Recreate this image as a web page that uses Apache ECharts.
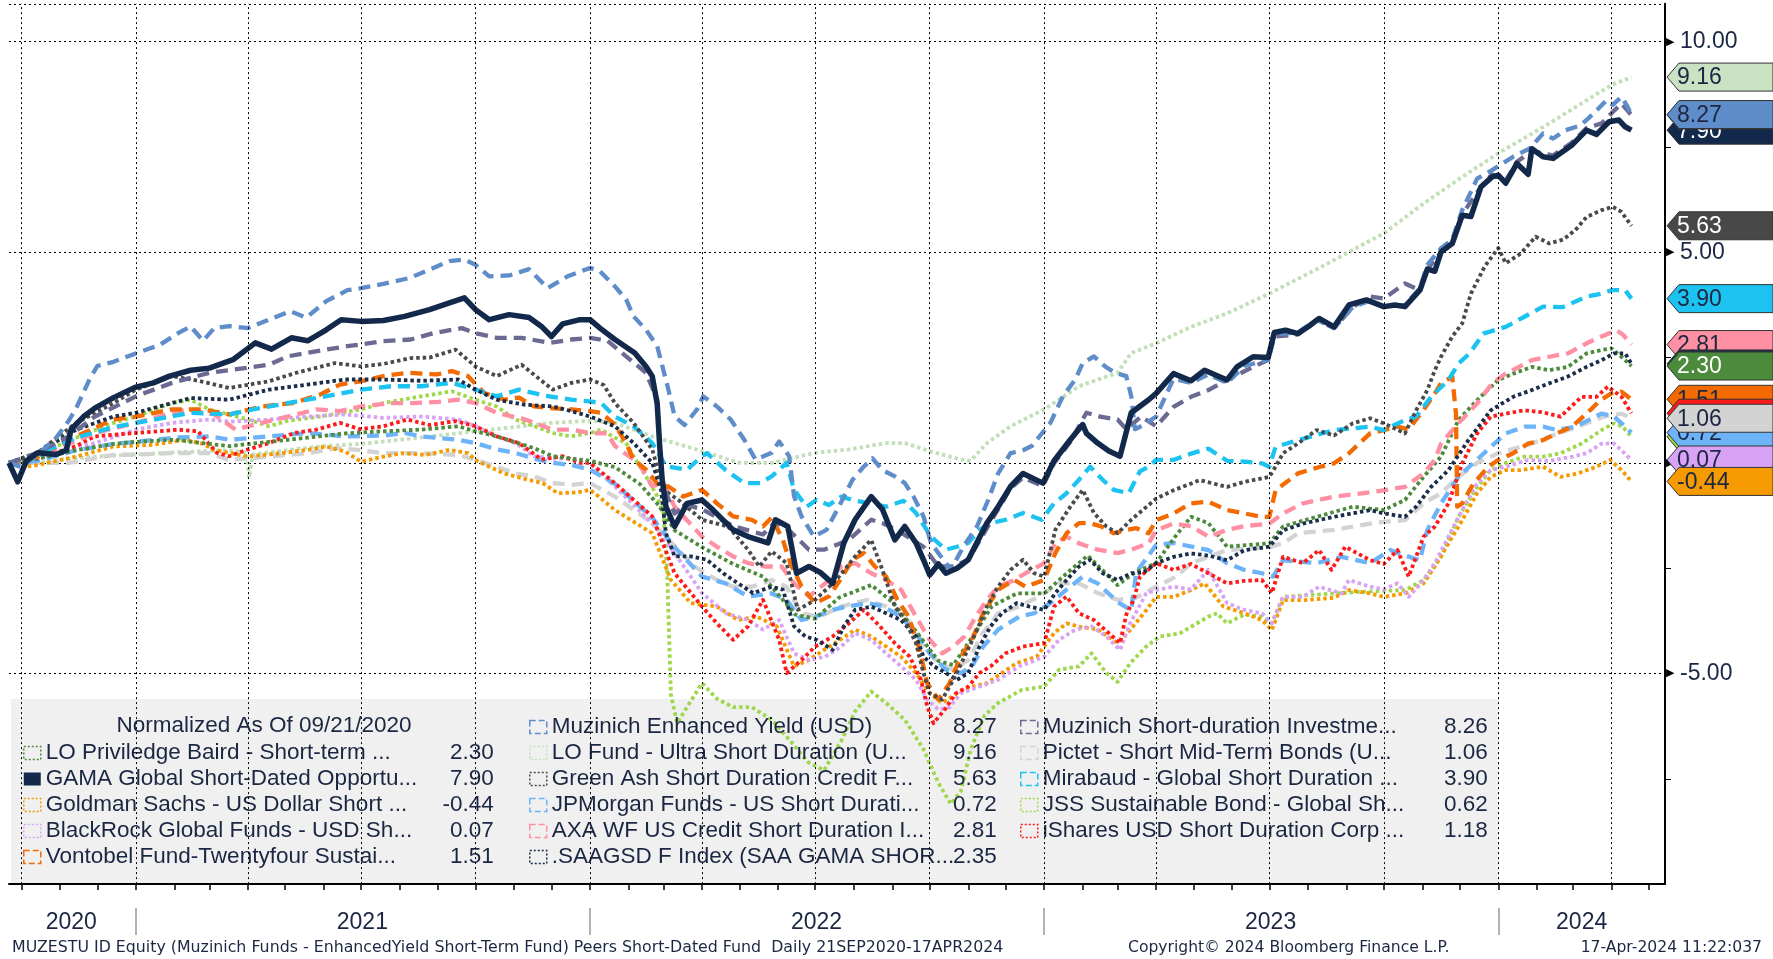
<!DOCTYPE html>
<html><head><meta charset="utf-8">
<script src="https://cdn.jsdelivr.net/npm/echarts@6/dist/echarts.min.js"></script>
<style>html,body{margin:0;padding:0;background:#fff}#c{width:1773px;height:959px}</style>
</head><body><div id="c"></div>
<script>
// ---------------- DATA (normalized % change since 21 Sep 2020) ----------------
const gama = [['2020-09-21',0],['2020-09-28',-0.45],['2020-10-05',0.05],['2020-10-14',0.24],['2020-10-29',0.2],['2020-11-06',0.3],['2020-11-10',0.8],['2020-11-20',1.1],['2020-11-29',1.3],['2020-12-14',1.55],['2021-01-01',1.8],['2021-01-15',1.9],['2021-01-28',2.06],['2021-02-14',2.2],['2021-03-01',2.25],['2021-03-20',2.45],['2021-04-07',2.85],['2021-04-20',2.7],['2021-05-06',2.97],['2021-05-19',2.9],['2021-06-03',3.16],['2021-06-15',3.4],['2021-07-01',3.36],['2021-07-19',3.38],['2021-08-05',3.48],['2021-08-25',3.64],['2021-09-10',3.8],['2021-09-22',3.92],['2021-10-01',3.64],['2021-10-12',3.4],['2021-10-28',3.52],['2021-11-13',3.45],['2021-11-23',3.24],['2021-12-01',3.0],['2021-12-10',3.3],['2021-12-24',3.4],['2022-01-01',3.4],['2022-01-09',3.2],['2022-01-21',2.93],['2022-02-06',2.61],['2022-02-15',2.29],['2022-02-20',2.06],['2022-02-24',1.4],['2022-02-26',0.4],['2022-02-28',-0.4],['2022-03-03',-1.04],['2022-03-10',-1.51],['2022-03-20',-0.96],['2022-04-01',-0.88],['2022-04-10',-1.12],['2022-04-26',-1.59],['2022-05-08',-1.75],['2022-05-24',-1.9],['2022-05-30',-1.35],['2022-06-09',-1.51],['2022-06-16',-2.62],['2022-06-26',-2.46],['2022-07-05',-2.6],['2022-07-15',-2.86],['2022-07-24',-1.9],['2022-08-02',-1.35],['2022-08-15',-0.8],['2022-08-24',-1.1],['2022-09-03',-1.83],['2022-09-11',-1.51],['2022-09-20',-1.9],['2022-09-26',-2.3],['2022-10-01',-2.66],['2022-10-08',-2.4],['2022-10-14',-2.62],['2022-10-23',-2.5],['2022-11-01',-2.3],['2022-11-09',-1.83],['2022-11-16',-1.43],['2022-11-25',-1.04],['2022-12-05',-0.56],['2022-12-15',-0.25],['2022-12-31',-0.48],['2023-01-09',0.05],['2023-01-22',0.55],['2023-02-01',0.91],['2023-02-04',0.7],['2023-02-13',0.47],['2023-02-22',0.28],['2023-03-03',0.16],['2023-03-12',1.19],['2023-03-26',1.5],['2023-04-01',1.65],['2023-04-15',2.12],['2023-04-29',1.95],['2023-05-10',2.2],['2023-05-28',1.97],['2023-06-05',2.28],['2023-06-18',2.52],['2023-06-30',2.5],['2023-07-05',3.1],['2023-07-14',3.15],['2023-07-24',3.07],['2023-08-02',3.25],['2023-08-10',3.43],['2023-08-22',3.23],['2023-09-03',3.75],['2023-09-17',3.87],['2023-10-01',3.71],['2023-10-10',3.75],['2023-10-18',3.71],['2023-10-30',4.1],['2023-11-05',4.6],['2023-11-11',4.55],['2023-11-16',5.01],['2023-11-25',5.21],['2023-12-03',5.88],['2023-12-10',5.85],['2023-12-18',6.55],['2023-12-27',6.79],['2024-01-01',6.83],['2024-01-07',6.64],['2024-01-16',7.11],['2024-01-25',6.85],['2024-01-28',7.46],['2024-02-06',7.27],['2024-02-14',7.23],['2024-02-29',7.54],['2024-03-12',7.9],['2024-03-20',7.8],['2024-03-30',8.1],['2024-04-07',8.14],['2024-04-12',7.98],['2024-04-17',7.90]];

const muzEY = [['2020-09-21',0],['2020-10-01',-0.1],['2020-10-14',0.2],['2020-10-29',0.6],['2020-11-08',1.0],['2020-11-14',1.3],['2020-11-25',2.0],['2020-12-01',2.3],['2020-12-14',2.4],['2021-01-01',2.6],['2021-01-20',2.8],['2021-02-05',3.1],['2021-02-14',3.24],['2021-02-24',2.9],['2021-03-05',3.2],['2021-03-17',3.25],['2021-04-01',3.2],['2021-04-18',3.4],['2021-05-05',3.6],['2021-05-18',3.45],['2021-06-03',3.84],['2021-06-20',4.1],['2021-07-01',4.15],['2021-07-19',4.25],['2021-08-09',4.39],['2021-08-25',4.59],['2021-09-10',4.79],['2021-09-22',4.83],['2021-10-01',4.7],['2021-10-12',4.43],['2021-10-28',4.45],['2021-11-13',4.6],['2021-11-28',4.15],['2021-12-14',4.43],['2022-01-01',4.63],['2022-01-09',4.55],['2022-01-21',4.19],['2022-01-30',3.88],['2022-02-05',3.48],['2022-02-15',3.16],['2022-02-24',2.77],['2022-03-01',2.2],['2022-03-05',1.74],['2022-03-10',1.1],['2022-03-18',0.9],['2022-03-28',1.27],['2022-04-02',1.58],['2022-04-13',1.34],['2022-04-24',1.03],['2022-05-05',0.55],['2022-05-14',0.08],['2022-05-27',0.24],['2022-06-02',0.51],['2022-06-10',0.16],['2022-06-14',-0.79],['2022-06-20',-1.27],['2022-06-30',-1.75],['2022-07-10',-1.59],['2022-07-20',-1.04],['2022-07-31',-0.4],['2022-08-09',-0.09],['2022-08-16',0.11],['2022-08-24',-0.17],['2022-09-03',-0.32],['2022-09-11',-0.48],['2022-09-18',-0.8],['2022-09-26',-1.27],['2022-10-02',-1.9],['2022-10-10',-2.22],['2022-10-18',-2.54],['2022-10-28',-1.99],['2022-11-08',-1.51],['2022-11-17',-0.88],['2022-11-25',-0.25],['2022-12-05',0.23],['2022-12-15',0.3],['2022-12-22',0.4],['2023-01-06',0.95],['2023-01-16',1.58],['2023-01-26',1.98],['2023-02-01',2.37],['2023-02-10',2.53],['2023-02-19',2.29],['2023-02-27',2.14],['2023-03-08',2.06],['2023-03-12',1.58],['2023-03-15',0.8],['2023-03-22',0.9],['2023-04-01',1.1],['2023-04-15',2.0],['2023-04-29',1.9],['2023-05-13',2.1],['2023-05-28',1.9],['2023-06-11',2.3],['2023-06-30',2.45],['2023-07-05',3.05],['2023-07-24',3.1],['2023-08-08',3.4],['2023-08-22',3.2],['2023-09-06',3.7],['2023-09-20',3.85],['2023-10-01',3.7],['2023-10-18',3.75],['2023-10-30',4.15],['2023-11-05',4.7],['2023-11-16',5.1],['2023-11-25',5.3],['2023-12-03',6.0],['2023-12-15',6.75],['2023-12-27',6.95],['2024-01-13',7.27],['2024-01-26',7.46],['2024-02-06',7.82],['2024-02-14',7.7],['2024-02-24',7.9],['2024-03-06',8.0],['2024-03-12',8.14],['2024-03-20',8.37],['2024-03-28',8.61],['2024-04-02',8.5],['2024-04-09',8.69],['2024-04-14',8.45],['2024-04-17',8.27]];

const muzSD = [['2020-09-21',0],['2020-10-14',0.24],['2020-11-08',0.63],['2020-11-29',1.1],['2021-01-01',1.58],['2021-01-30',1.9],['2021-03-01',2.14],['2021-03-17',2.2],['2021-04-18',2.33],['2021-05-03',2.53],['2021-06-03',2.69],['2021-06-20',2.77],['2021-07-19',2.89],['2021-08-10',2.93],['2021-08-28',3.08],['2021-09-20',3.2],['2021-10-01',3.08],['2021-10-18',2.97],['2021-11-07',2.97],['2021-11-30',2.85],['2021-12-17',2.93],['2022-01-01',2.97],['2022-01-15',2.9],['2022-01-30',2.53],['2022-02-15',2.14],['2022-02-24',1.5],['2022-02-28',-0.5],['2022-03-10',-1.2],['2022-03-20',-1.0],['2022-04-01',-1.1],['2022-04-26',-1.5],['2022-05-20',-1.7],['2022-05-30',-1.4],['2022-06-10',-1.6],['2022-06-26',-2.06],['2022-07-08',-2.06],['2022-07-28',-1.83],['2022-08-15',-1.35],['2022-08-24',-1.43],['2022-09-05',-1.6],['2022-09-26',-1.99],['2022-10-08',-2.46],['2022-10-20',-2.46],['2022-11-01',-2.3],['2022-11-16',-1.55],['2022-12-05',-0.6],['2022-12-15',-0.35],['2022-12-31',-0.55],['2023-01-09',0.0],['2023-01-22',0.5],['2023-02-04',1.19],['2023-02-15',1.1],['2023-03-01',1.03],['2023-03-08',0.8],['2023-03-20',1.1],['2023-04-01',0.87],['2023-04-15',1.33],['2023-04-29',1.57],['2023-05-13',1.73],['2023-05-28',1.97],['2023-06-18',2.28],['2023-06-30',2.44],['2023-07-05',3.0],['2023-07-24',3.05],['2023-08-08',3.4],['2023-08-22',3.2],['2023-09-06',3.7],['2023-09-20',3.95],['2023-10-01',3.9],['2023-10-18',4.26],['2023-10-30',4.1],['2023-11-05',4.6],['2023-11-16',5.0],['2023-11-25',5.2],['2023-12-03',5.9],['2023-12-18',6.55],['2023-12-27',6.85],['2024-01-07',6.7],['2024-01-16',7.15],['2024-01-28',7.4],['2024-02-06',7.35],['2024-02-14',7.3],['2024-02-29',7.6],['2024-03-12',7.95],['2024-03-24',8.06],['2024-04-01',8.3],['2024-04-09',8.53],['2024-04-17',8.26]];

const loFund = [['2020-09-21',0],['2020-10-14',0.0],['2020-11-08',0.1],['2020-12-01',0.15],['2021-01-01',0.2],['2021-02-01',0.25],['2021-03-15',0.3],['2021-03-31',0.25],['2021-04-02',-0.35],['2021-04-05',0.2],['2021-05-01',0.3],['2021-06-01',0.4],['2021-07-01',0.45],['2021-08-01',0.55],['2021-09-01',0.65],['2021-10-01',0.75],['2021-11-01',0.85],['2021-12-01',0.95],['2022-01-01',1.0],['2022-01-21',0.95],['2022-02-20',0.63],['2022-04-01',0.28],['2022-05-01',0.0],['2022-05-27',0.0],['2022-07-01',0.24],['2022-07-28',0.32],['2022-08-27',0.47],['2022-09-11',0.47],['2022-10-01',0.28],['2022-10-26',0.08],['2022-11-03',0.05],['2022-11-16',0.47],['2022-12-05',0.87],['2023-01-01',1.27],['2023-01-29',1.82],['2023-03-01',2.14],['2023-03-12',2.61],['2023-04-01',2.84],['2023-04-29',3.23],['2023-05-28',3.55],['2023-07-01',4.02],['2023-08-12',4.66],['2023-10-01',5.45],['2023-11-02',6.16],['2023-12-03',6.79],['2024-01-01',7.35],['2024-02-11',8.06],['2024-03-12',8.61],['2024-04-01',8.97],['2024-04-17',9.16]];

const greenAsh = [['2020-09-21',0],['2020-10-14',0.24],['2020-11-14',0.95],['2020-12-14',1.42],['2021-01-01',1.74],['2021-01-30',2.06],['2021-02-20',1.95],['2021-03-17',1.78],['2021-04-18',1.94],['2021-05-10',2.14],['2021-06-10',2.37],['2021-07-01',2.29],['2021-07-19',2.35],['2021-08-10',2.49],['2021-08-25',2.5],['2021-09-15',2.69],['2021-10-01',2.29],['2021-10-18',2.06],['2021-11-07',2.33],['2021-12-02',1.74],['2021-12-17',1.9],['2022-01-01',1.98],['2022-01-12',1.85],['2022-01-21',1.42],['2022-02-05',0.95],['2022-02-20',0.32],['2022-03-01',-0.63],['2022-03-13',-0.88],['2022-04-01',-1.35],['2022-04-22',-1.51],['2022-05-08',-2.06],['2022-05-17',-2.46],['2022-05-27',-2.1],['2022-06-08',-2.38],['2022-06-17',-3.49],['2022-07-01',-3.25],['2022-07-18',-2.78],['2022-08-02',-2.22],['2022-08-15',-1.83],['2022-08-24',-2.54],['2022-09-03',-3.41],['2022-09-11',-3.73],['2022-09-20',-4.28],['2022-09-26',-4.99],['2022-10-01',-5.47],['2022-10-11',-5.62],['2022-10-20',-5.15],['2022-10-29',-4.6],['2022-11-07',-4.04],['2022-11-16',-3.41],['2022-11-25',-2.94],['2022-12-05',-2.54],['2022-12-15',-2.3],['2022-12-24',-2.62],['2023-01-01',-2.7],['2023-01-10',-1.59],['2023-01-22',-1.04],['2023-02-01',-0.64],['2023-02-10',-1.19],['2023-02-20',-1.51],['2023-03-01',-1.67],['2023-03-12',-1.35],['2023-03-22',-1.1],['2023-04-01',-0.85],['2023-04-15',-0.65],['2023-05-06',-0.41],['2023-05-28',-0.57],['2023-06-11',-0.45],['2023-07-01',-0.33],['2023-07-06',-0.09],['2023-07-12',0.23],['2023-07-24',0.46],['2023-08-08',0.78],['2023-08-22',0.65],['2023-09-06',0.94],['2023-09-20',1.06],['2023-10-01',0.94],['2023-10-18',0.7],['2023-10-27',1.25],['2023-11-05',1.73],['2023-11-11',2.2],['2023-11-16',2.52],['2023-11-25',3.0],['2023-12-03',3.31],['2023-12-10',4.02],['2023-12-21',4.66],['2024-01-01',5.1],['2024-01-07',4.74],['2024-01-19',4.97],['2024-01-31',5.37],['2024-02-11',5.21],['2024-02-22',5.3],['2024-03-03',5.53],['2024-03-12',5.84],['2024-03-24',6.0],['2024-04-02',6.08],['2024-04-09',5.96],['2024-04-17',5.63]];

const mirabaud = [['2020-09-21',0],['2020-10-14',0.2],['2020-11-14',0.6],['2020-12-14',0.85],['2021-01-01',0.95],['2021-02-14',1.19],['2021-03-17',1.15],['2021-04-05',1.27],['2021-05-03',1.42],['2021-05-19',1.5],['2021-06-10',1.62],['2021-07-01',1.74],['2021-07-25',1.82],['2021-08-18',1.82],['2021-09-12',1.9],['2021-10-01',1.74],['2021-10-18',1.58],['2021-11-05',1.74],['2021-11-25',1.6],['2021-12-17',1.5],['2022-01-01',1.46],['2022-01-10',1.42],['2022-01-21',1.1],['2022-02-05',0.87],['2022-02-20',0.47],['2022-03-03',-0.08],['2022-03-20',-0.16],['2022-04-01',0.16],['2022-04-05',0.23],['2022-04-20',-0.17],['2022-05-05',-0.48],['2022-05-18',-0.48],['2022-05-27',-0.32],['2022-06-08',0.0],['2022-06-14',-0.64],['2022-06-24',-1.04],['2022-07-02',-0.88],['2022-07-12',-1.0],['2022-07-22',-0.8],['2022-08-02',-0.9],['2022-08-15',-0.96],['2022-08-27',-1.04],['2022-09-10',-0.9],['2022-09-20',-1.19],['2022-10-02',-1.75],['2022-10-14',-2.06],['2022-10-23',-1.99],['2022-11-01',-1.9],['2022-11-10',-1.59],['2022-11-19',-1.43],['2022-12-01',-1.35],['2022-12-15',-1.19],['2022-12-30',-1.35],['2023-01-09',-0.96],['2023-01-19',-0.72],['2023-01-29',-0.4],['2023-02-07',-0.09],['2023-02-17',-0.4],['2023-02-26',-0.64],['2023-03-10',-0.72],['2023-03-19',-0.2],['2023-03-26',-0.09],['2023-04-01',0.07],['2023-04-15',0.07],['2023-04-29',0.22],['2023-05-13',0.34],['2023-05-28',0.05],['2023-06-11',0.03],['2023-06-25',-0.01],['2023-07-01',-0.09],['2023-07-06',0.38],['2023-07-24',0.54],['2023-08-22',0.78],['2023-09-20',0.86],['2023-10-01',0.78],['2023-10-18',1.02],['2023-10-27',1.1],['2023-11-08',1.57],['2023-11-22',1.97],['2023-11-30',2.36],['2023-12-09',2.6],['2023-12-20',3.07],['2024-01-07',3.23],['2024-01-22',3.47],['2024-02-06',3.71],['2024-02-22',3.7],['2024-03-12',3.95],['2024-03-24',4.02],['2024-04-01',4.1],['2024-04-12',4.1],['2024-04-17',3.90]];

const vontobel = [['2020-09-21',0],['2020-10-14',0.15],['2020-11-14',0.63],['2020-12-14',1.03],['2021-01-01',1.1],['2021-01-30',1.27],['2021-02-24',1.27],['2021-03-17',1.15],['2021-04-12',1.34],['2021-05-07',1.42],['2021-05-29',1.62],['2021-06-14',1.86],['2021-07-01',1.94],['2021-07-19',2.06],['2021-08-07',2.14],['2021-08-31',2.1],['2021-09-12',2.18],['2021-09-25',2.06],['2021-10-08',1.66],['2021-10-24',1.5],['2021-11-05',1.55],['2021-11-17',1.34],['2021-11-30',1.3],['2021-12-17',1.27],['2022-01-01',1.23],['2022-01-10',1.19],['2022-01-21',0.91],['2022-01-30',0.47],['2022-02-05',0.08],['2022-02-15',-0.16],['2022-02-26',-0.56],['2022-03-05',-0.56],['2022-03-17',-0.8],['2022-04-01',-0.64],['2022-04-13',-0.96],['2022-04-26',-1.27],['2022-05-11',-1.35],['2022-05-20',-1.51],['2022-05-27',-1.3],['2022-06-05',-1.83],['2022-06-11',-2.38],['2022-06-20',-2.93],['2022-07-01',-3.33],['2022-07-12',-3.17],['2022-07-21',-2.78],['2022-07-31',-2.3],['2022-08-09',-2.14],['2022-08-18',-2.46],['2022-08-27',-2.7],['2022-09-05',-3.25],['2022-09-14',-3.65],['2022-09-23',-4.44],['2022-09-29',-5.23],['2022-10-08',-5.62],['2022-10-17',-5.23],['2022-10-26',-4.6],['2022-11-04',-4.2],['2022-11-13',-3.57],['2022-11-25',-3.01],['2022-12-08',-2.78],['2022-12-17',-2.94],['2023-01-01',-2.78],['2023-01-10',-2.14],['2023-01-19',-1.67],['2023-01-29',-1.43],['2023-02-07',-1.43],['2023-02-16',-1.51],['2023-02-26',-1.67],['2023-03-07',-1.6],['2023-03-16',-1.55],['2023-03-26',-1.67],['2023-04-01',-1.36],['2023-04-15',-1.2],['2023-04-29',-0.96],['2023-05-13',-0.92],['2023-05-28',-1.12],['2023-06-11',-1.2],['2023-06-25',-1.28],['2023-07-01',-1.28],['2023-07-06',-0.65],['2023-07-24',-0.25],['2023-08-11',-0.09],['2023-08-22',-0.01],['2023-09-03',0.23],['2023-09-20',0.7],['2023-10-01',0.78],['2023-10-12',0.86],['2023-10-21',0.8],['2023-11-02',1.26],['2023-11-11',1.65],['2023-11-16',1.89],['2023-11-25',2.05],['2023-11-28',1.17],['2023-11-29',-1.04],['2023-12-03',-0.96],['2023-12-12',-0.49],['2023-12-24',-0.09],['2024-01-01',0.07],['2024-01-13',0.23],['2024-01-25',0.46],['2024-02-06',0.54],['2024-02-17',0.7],['2024-02-29',0.86],['2024-03-12',1.17],['2024-03-23',1.49],['2024-04-01',1.65],['2024-04-09',1.69],['2024-04-17',1.51]];

const axa = [['2020-09-21',0],['2020-10-14',0.15],['2020-11-29',0.71],['2021-01-01',0.95],['2021-02-10',1.27],['2021-03-05',1.15],['2021-03-22',0.79],['2021-04-12',0.95],['2021-05-03',1.1],['2021-05-26',1.27],['2021-06-14',1.23],['2021-07-01',1.34],['2021-07-25',1.42],['2021-08-12',1.42],['2021-09-01',1.45],['2021-09-17',1.5],['2021-10-01',1.42],['2021-10-18',1.19],['2021-11-10',1.03],['2021-12-02',0.79],['2021-12-17',0.79],['2022-01-01',0.71],['2022-01-15',0.7],['2022-01-21',0.4],['2022-02-09',0.0],['2022-02-20',-0.55],['2022-03-01',-0.48],['2022-03-10',-1.04],['2022-04-01',-1.75],['2022-04-13',-1.99],['2022-04-26',-2.22],['2022-05-08',-2.38],['2022-05-22',-2.46],['2022-06-04',-2.46],['2022-06-14',-2.86],['2022-06-26',-3.17],['2022-07-09',-2.86],['2022-07-22',-2.46],['2022-08-02',-2.38],['2022-08-15',-2.62],['2022-08-27',-2.78],['2022-09-08',-3.01],['2022-09-20',-3.65],['2022-10-01',-4.2],['2022-10-11',-4.52],['2022-10-20',-4.36],['2022-10-29',-4.12],['2022-11-07',-3.65],['2022-11-16',-3.25],['2022-11-25',-2.94],['2022-12-08',-2.78],['2022-12-17',-2.62],['2023-01-01',-2.38],['2023-01-10',-1.91],['2023-01-19',-1.75],['2023-01-29',-1.91],['2023-02-13',-2.06],['2023-03-01',-2.14],['2023-03-12',-2.06],['2023-03-26',-1.91],['2023-04-01',-1.6],['2023-04-15',-1.44],['2023-04-29',-1.5],['2023-05-13',-1.75],['2023-05-28',-1.59],['2023-06-11',-1.5],['2023-07-01',-1.44],['2023-07-12',-1.2],['2023-07-28',-0.96],['2023-08-22',-0.8],['2023-09-15',-0.72],['2023-10-01',-0.65],['2023-10-18',-0.57],['2023-11-02',-0.25],['2023-11-11',0.07],['2023-11-16',0.46],['2023-11-30',0.94],['2023-12-15',1.41],['2023-12-27',1.89],['2024-01-07',2.12],['2024-01-28',2.44],['2024-02-11',2.52],['2024-02-26',2.6],['2024-03-12',2.84],['2024-03-24',3.0],['2024-04-05',3.15],['2024-04-10',3.05],['2024-04-17',2.81]];

const loBaird = [['2020-09-21',0],['2020-10-14',0.1],['2020-11-14',0.3],['2020-12-14',0.45],['2021-01-01',0.5],['2021-02-01',0.55],['2021-03-01',0.45],['2021-03-17',0.4],['2021-04-18',0.5],['2021-05-19',0.6],['2021-06-18',0.7],['2021-07-19',0.75],['2021-08-18',0.79],['2021-09-17',0.87],['2021-10-01',0.75],['2021-10-18',0.63],['2021-11-17',0.35],['2021-12-02',0.16],['2021-12-17',0.1],['2022-01-01',0.05],['2022-01-21',-0.1],['2022-02-10',-0.5],['2022-02-25',-1.0],['2022-03-10',-1.6],['2022-04-01',-2.0],['2022-04-26',-2.4],['2022-05-20',-2.7],['2022-06-15',-3.6],['2022-07-01',-3.7],['2022-07-20',-3.2],['2022-08-15',-2.9],['2022-09-01',-3.3],['2022-09-20',-4.0],['2022-10-08',-4.7],['2022-10-20',-4.8],['2022-11-05',-4.1],['2022-11-20',-3.4],['2022-12-10',-3.1],['2023-01-01',-3.1],['2023-01-20',-2.6],['2023-02-05',-2.2],['2023-03-01',-2.9],['2023-03-15',-2.6],['2023-04-01',-2.38],['2023-04-15',-1.8],['2023-04-29',-1.28],['2023-05-13',-1.43],['2023-05-28',-1.99],['2023-07-01',-1.91],['2023-07-12',-1.51],['2023-08-08',-1.28],['2023-09-06',-1.04],['2023-10-01',-1.12],['2023-10-18',-0.88],['2023-11-02',-0.33],['2023-11-16',0.15],['2023-11-30',1.02],['2023-12-15',1.49],['2024-01-01',1.97],['2024-01-13',2.12],['2024-01-28',2.28],['2024-02-11',2.2],['2024-02-26',2.28],['2024-03-12',2.6],['2024-03-24',2.68],['2024-04-01',2.72],['2024-04-09',2.52],['2024-04-17',2.30]];

const saagsd = [['2020-09-21',0],['2020-10-14',0.24],['2020-11-14',0.79],['2020-12-14',1.1],['2021-01-01',1.19],['2021-01-30',1.42],['2021-02-14',1.54],['2021-03-17',1.5],['2021-04-18',1.74],['2021-05-19',1.86],['2021-06-18',1.98],['2021-07-19',1.98],['2021-08-18',1.95],['2021-09-17',1.98],['2021-10-01',1.74],['2021-10-18',1.5],['2021-11-10',1.38],['2021-12-02',1.34],['2021-12-17',1.23],['2022-01-01',1.1],['2022-01-21',0.87],['2022-02-05',0.47],['2022-02-20',0.0],['2022-02-27',-0.63],['2022-03-03',-1.67],['2022-03-10',-2.22],['2022-03-23',-2.22],['2022-04-05',-2.3],['2022-04-18',-2.62],['2022-04-30',-2.86],['2022-05-12',-3.09],['2022-05-27',-2.94],['2022-06-05',-3.01],['2022-06-14',-3.88],['2022-06-23',-4.12],['2022-07-02',-4.2],['2022-07-15',-4.44],['2022-07-24',-3.88],['2022-08-02',-3.49],['2022-08-15',-3.41],['2022-08-27',-3.57],['2022-09-08',-3.73],['2022-09-20',-4.12],['2022-09-26',-4.6],['2022-10-05',-4.84],['2022-10-14',-4.99],['2022-10-23',-5.15],['2022-11-01',-4.99],['2022-11-10',-4.36],['2022-11-19',-3.88],['2022-11-28',-3.57],['2022-12-10',-3.33],['2022-12-20',-3.41],['2023-01-01',-3.49],['2023-01-10',-3.09],['2023-01-19',-2.78],['2023-01-29',-2.46],['2023-02-07',-2.3],['2023-02-17',-2.62],['2023-03-01',-2.78],['2023-03-12',-2.62],['2023-03-22',-2.6],['2023-04-01',-2.38],['2023-04-15',-2.23],['2023-04-29',-2.15],['2023-05-13',-2.2],['2023-05-28',-2.31],['2023-06-11',-2.07],['2023-07-01',-1.99],['2023-07-12',-1.6],['2023-07-28',-1.44],['2023-08-22',-1.28],['2023-09-20',-1.12],['2023-10-01',-1.2],['2023-10-18',-1.28],['2023-10-27',-1.04],['2023-11-08',-0.57],['2023-11-22',-0.17],['2023-12-08',0.54],['2023-12-26',1.25],['2024-01-13',1.57],['2024-01-28',1.73],['2024-02-11',1.89],['2024-02-26',2.05],['2024-03-12',2.28],['2024-03-24',2.44],['2024-04-03',2.6],['2024-04-12',2.6],['2024-04-17',2.35]];

const pictet = [['2020-09-21',0],['2020-10-14',0.0],['2020-11-08',0.0],['2020-12-14',0.19],['2021-01-01',0.2],['2021-01-28',0.23],['2021-03-01',0.23],['2021-03-17',0.07],['2021-04-18',0.15],['2021-05-19',0.23],['2021-06-12',0.35],['2021-07-01',0.3],['2021-07-19',0.23],['2021-08-18',0.23],['2021-09-17',0.19],['2021-10-01',0.07],['2021-10-18',-0.09],['2021-11-02',-0.25],['2021-11-17',-0.32],['2021-12-02',-0.48],['2021-12-17',-0.52],['2022-01-01',-0.48],['2022-01-21',-0.8],['2022-02-20',-1.43],['2022-03-26',-2.46],['2022-04-13',-2.78],['2022-04-26',-2.94],['2022-05-11',-2.94],['2022-05-27',-2.78],['2022-06-08',-2.94],['2022-06-20',-3.57],['2022-07-04',-3.65],['2022-07-22',-3.41],['2022-08-12',-3.25],['2022-08-27',-3.41],['2022-09-14',-3.73],['2022-09-26',-4.36],['2022-10-08',-4.75],['2022-10-20',-4.91],['2022-11-01',-4.68],['2022-11-13',-4.04],['2022-11-25',-3.57],['2022-12-12',-3.41],['2022-12-28',-3.17],['2023-01-13',-2.86],['2023-01-29',-2.86],['2023-02-13',-3.09],['2023-03-01',-3.25],['2023-03-16',-3.2],['2023-04-01',-2.94],['2023-04-17',-2.7],['2023-04-29',-2.38],['2023-05-28',-2.07],['2023-07-01',-2.0],['2023-07-12',-1.91],['2023-07-24',-1.67],['2023-08-22',-1.59],['2023-09-20',-1.44],['2023-10-01',-1.4],['2023-10-18',-1.36],['2023-11-02',-0.96],['2023-11-16',-0.72],['2023-11-30',-0.33],['2023-12-15',0.0],['2024-01-01',0.23],['2024-01-28',0.46],['2024-02-11',0.62],['2024-02-26',0.78],['2024-03-12',0.94],['2024-03-26',1.1],['2024-04-09',1.17],['2024-04-17',1.06]];

const jpm = [['2020-09-21',0],['2020-10-14',0.05],['2020-11-14',0.3],['2020-12-14',0.45],['2021-01-01',0.5],['2021-02-01',0.6],['2021-03-01',0.63],['2021-03-17',0.55],['2021-04-18',0.63],['2021-05-19',0.71],['2021-06-18',0.63],['2021-07-19',0.65],['2021-08-05',0.71],['2021-08-18',0.63],['2021-09-17',0.55],['2021-10-01',0.47],['2021-10-18',0.32],['2021-11-02',0.24],['2021-11-17',0.1],['2021-12-02',0.0],['2021-12-17',-0.05],['2022-01-01',-0.16],['2022-01-21',-0.5],['2022-02-20',-1.3],['2022-03-10',-2.0],['2022-04-01',-2.7],['2022-04-20',-2.86],['2022-05-08',-3.17],['2022-05-27',-3.1],['2022-06-08',-3.25],['2022-06-20',-3.73],['2022-07-01',-3.65],['2022-07-15',-3.49],['2022-07-28',-3.4],['2022-08-12',-3.33],['2022-08-24',-3.4],['2022-09-08',-3.65],['2022-09-20',-4.04],['2022-10-01',-4.52],['2022-10-14',-4.91],['2022-10-26',-4.99],['2022-11-04',-4.83],['2022-11-13',-4.36],['2022-11-25',-3.96],['2022-12-12',-3.65],['2022-12-24',-3.57],['2023-01-06',-3.33],['2023-01-19',-3.01],['2023-02-01',-2.7],['2023-02-13',-2.86],['2023-03-01',-3.3],['2023-03-12',-3.5],['2023-03-16',-2.6],['2023-04-01',-1.95],['2023-04-15',-1.9],['2023-05-13',-2.07],['2023-05-28',-2.38],['2023-06-11',-2.54],['2023-06-25',-2.62],['2023-07-04',-2.7],['2023-07-12',-2.31],['2023-08-08',-2.38],['2023-08-28',-2.23],['2023-09-20',-2.38],['2023-10-06',-2.07],['2023-10-18',-2.2],['2023-10-30',-2.31],['2023-11-05',-1.59],['2023-11-16',-0.96],['2023-11-30',-0.33],['2023-12-12',0.0],['2023-12-26',0.38],['2024-01-07',0.7],['2024-01-22',0.86],['2024-02-06',0.86],['2024-02-17',0.78],['2024-03-03',0.86],['2024-03-24',1.17],['2024-04-03',1.1],['2024-04-12',0.86],['2024-04-17',0.72]];

const ishares = [['2020-09-21',0],['2020-10-14',0.1],['2020-11-14',0.4],['2020-11-29',0.63],['2021-01-01',0.71],['2021-02-04',0.79],['2021-02-20',0.75],['2021-03-07',0.24],['2021-03-17',0.16],['2021-04-01',0.32],['2021-04-18',0.47],['2021-05-08',0.71],['2021-05-26',0.79],['2021-06-14',0.95],['2021-06-30',0.8],['2021-07-19',0.87],['2021-08-07',1.03],['2021-08-25',0.9],['2021-09-15',0.99],['2021-10-01',0.87],['2021-10-18',0.63],['2021-11-05',0.47],['2021-11-23',0.08],['2021-12-10',0.16],['2021-12-24',0.0],['2022-01-01',0.0],['2022-01-21',-0.48],['2022-02-20',-1.27],['2022-03-10',-2.62],['2022-04-01',-3.41],['2022-04-13',-3.81],['2022-04-26',-4.2],['2022-05-08',-3.88],['2022-05-20',-3.25],['2022-06-02',-4.2],['2022-06-08',-4.99],['2022-06-20',-4.68],['2022-07-01',-4.36],['2022-07-15',-4.12],['2022-07-28',-3.81],['2022-08-09',-3.49],['2022-08-22',-3.88],['2022-09-03',-4.28],['2022-09-15',-4.6],['2022-09-24',-5.15],['2022-09-29',-5.78],['2022-10-04',-6.18],['2022-10-13',-5.86],['2022-10-22',-5.47],['2022-11-01',-5.31],['2022-11-10',-4.99],['2022-11-19',-4.83],['2022-12-01',-4.52],['2022-12-15',-4.36],['2023-01-01',-4.28],['2023-01-09',-3.41],['2023-01-19',-3.17],['2023-01-29',-3.57],['2023-02-10',-3.73],['2023-02-22',-4.04],['2023-03-03',-4.28],['2023-03-08',-3.6],['2023-03-14',-3.25],['2023-03-19',-2.7],['2023-04-01',-2.38],['2023-04-15',-2.54],['2023-04-29',-2.4],['2023-05-13',-2.62],['2023-05-28',-2.86],['2023-06-11',-2.8],['2023-06-25',-2.78],['2023-07-03',-3.09],['2023-07-12',-2.23],['2023-07-28',-2.38],['2023-08-10',-2.07],['2023-08-20',-2.54],['2023-08-31',-1.99],['2023-09-20',-2.31],['2023-10-01',-2.4],['2023-10-12',-2.07],['2023-10-21',-2.7],['2023-11-02',-1.75],['2023-11-11',-1.51],['2023-11-22',-0.96],['2023-12-03',-0.01],['2023-12-15',0.7],['2023-12-26',1.1],['2024-01-07',1.17],['2024-01-22',1.25],['2024-02-06',1.2],['2024-02-20',1.1],['2024-03-08',1.57],['2024-03-20',1.57],['2024-03-29',1.81],['2024-04-09',1.57],['2024-04-17',1.18]];

const blackrock = [['2020-09-21',0],['2020-10-14',0.1],['2020-11-29',0.47],['2021-01-01',0.79],['2021-01-30',0.95],['2021-03-01',1.03],['2021-03-17',0.98],['2021-04-18',1.03],['2021-05-19',1.1],['2021-06-18',1.15],['2021-07-19',1.07],['2021-08-18',1.1],['2021-09-17',1.03],['2021-10-01',0.87],['2021-10-18',0.63],['2021-11-02',0.47],['2021-11-17',0.16],['2021-12-02',0.1],['2021-12-17',0.1],['2022-01-01',0.0],['2022-01-21',-0.56],['2022-02-20',-1.43],['2022-03-10',-2.14],['2022-04-01',-3.09],['2022-04-20',-3.57],['2022-05-08',-3.73],['2022-05-20',-3.96],['2022-06-02',-3.73],['2022-06-14',-4.52],['2022-06-26',-4.68],['2022-07-09',-4.6],['2022-07-22',-4.36],['2022-08-02',-4.04],['2022-08-15',-4.2],['2022-08-27',-4.52],['2022-09-08',-4.83],['2022-09-20',-5.15],['2022-09-29',-5.62],['2022-10-08',-5.86],['2022-10-17',-5.8],['2022-10-26',-5.47],['2022-11-10',-5.31],['2022-11-25',-5.15],['2022-12-12',-4.83],['2023-01-01',-4.6],['2023-01-13',-4.2],['2023-01-26',-3.96],['2023-02-08',-3.88],['2023-02-20',-4.12],['2023-03-03',-4.44],['2023-03-11',-3.81],['2023-03-24',-3.1],['2023-04-01',-3.02],['2023-04-15',-2.94],['2023-04-29',-3.0],['2023-05-13',-2.54],['2023-05-28',-3.33],['2023-06-11',-3.49],['2023-06-25',-3.57],['2023-07-03',-3.81],['2023-07-12',-3.18],['2023-07-28',-3.18],['2023-08-10',-2.94],['2023-08-28',-3.1],['2023-09-03',-2.78],['2023-09-20',-2.94],['2023-10-01',-3.0],['2023-10-12',-2.86],['2023-10-21',-3.18],['2023-11-02',-2.78],['2023-11-11',-2.38],['2023-11-22',-1.75],['2023-12-03',-1.12],['2023-12-15',-0.49],['2023-12-26',-0.17],['2024-01-07',-0.09],['2024-01-25',0.07],['2024-02-11',0.05],['2024-03-01',0.15],['2024-03-12',0.23],['2024-03-24',0.46],['2024-04-03',0.46],['2024-04-09',0.3],['2024-04-17',0.07]];

const goldman = [['2020-09-21',0],['2020-10-01',-0.1],['2020-10-14',-0.05],['2020-11-14',0.15],['2020-12-14',0.39],['2021-01-15',0.43],['2021-02-10',0.55],['2021-02-24',0.45],['2021-03-05',0.31],['2021-04-01',0.15],['2021-04-27',0.23],['2021-05-19',0.31],['2021-06-03',0.39],['2021-06-18',0.27],['2021-07-01',0.03],['2021-07-19',0.15],['2021-08-03',0.23],['2021-08-22',0.19],['2021-09-10',0.31],['2021-09-25',0.23],['2021-10-01',0.07],['2021-10-12',-0.09],['2021-10-24',-0.25],['2021-11-12',-0.4],['2021-11-24',-0.48],['2021-12-06',-0.72],['2021-12-22',-0.7],['2022-01-01',-0.64],['2022-01-08',-0.8],['2022-01-21',-1.12],['2022-02-20',-1.67],['2022-03-07',-2.78],['2022-03-23',-3.33],['2022-04-13',-3.41],['2022-04-30',-3.73],['2022-05-15',-3.65],['2022-05-31',-3.88],['2022-06-14',-4.83],['2022-06-26',-4.68],['2022-07-08',-4.44],['2022-07-21',-4.2],['2022-08-02',-3.96],['2022-08-15',-4.12],['2022-08-27',-4.36],['2022-09-08',-4.6],['2022-09-20',-4.99],['2022-10-01',-5.47],['2022-10-11',-5.7],['2022-10-23',-5.47],['2022-11-04',-5.31],['2022-11-16',-5.23],['2022-11-28',-4.99],['2022-12-10',-4.75],['2022-12-26',-4.6],['2023-01-09',-4.04],['2023-01-19',-3.81],['2023-01-31',-3.9],['2023-02-13',-3.95],['2023-03-01',-4.28],['2023-03-11',-3.97],['2023-03-24',-3.5],['2023-04-01',-3.18],['2023-04-15',-3.18],['2023-04-29',-3.02],['2023-05-10',-2.86],['2023-05-25',-3.41],['2023-06-11',-3.57],['2023-06-25',-3.73],['2023-07-03',-3.97],['2023-07-12',-3.26],['2023-07-28',-3.26],['2023-08-22',-3.2],['2023-09-03',-3.02],['2023-09-20',-3.1],['2023-10-01',-3.18],['2023-10-18',-3.1],['2023-11-02',-2.86],['2023-11-11',-2.46],['2023-11-22',-1.91],['2023-12-03',-1.36],['2023-12-15',-0.72],['2023-12-26',-0.33],['2024-01-07',-0.17],['2024-01-19',-0.17],['2024-02-06',-0.09],['2024-02-20',-0.33],['2024-03-05',-0.25],['2024-03-20',-0.09],['2024-03-31',0.07],['2024-04-09',-0.17],['2024-04-17',-0.44]];

const jss = [['2020-09-21',0],['2020-10-14',0.2],['2020-11-14',0.6],['2020-12-14',0.95],['2021-01-01',1.1],['2021-01-30',1.42],['2021-02-14',1.5],['2021-03-01',1.27],['2021-04-01',1.03],['2021-04-18',0.87],['2021-05-03',1.0],['2021-05-29',1.1],['2021-07-01',1.27],['2021-07-19',1.42],['2021-08-18',1.58],['2021-09-12',1.7],['2021-10-01',1.5],['2021-10-18',1.34],['2021-11-02',1.03],['2021-11-17',0.87],['2021-12-02',0.71],['2021-12-17',0.63],['2022-01-01',0.71],['2022-01-10',0.79],['2022-01-21',0.6],['2022-01-30',0.47],['2022-02-05',0.16],['2022-02-15',-0.32],['2022-02-24',-0.79],['2022-03-01',-1.19],['2022-03-04',-2.6],['2022-03-07',-5.5],['2022-03-12',-6.18],['2022-03-22',-5.7],['2022-04-01',-5.23],['2022-04-13',-5.6],['2022-04-26',-5.8],['2022-05-11',-5.8],['2022-05-27',-6.1],['2022-06-11',-6.6],['2022-06-25',-7.1],['2022-07-08',-7.3],['2022-07-22',-6.6],['2022-08-02',-5.9],['2022-08-15',-5.43],['2022-08-27',-5.7],['2022-09-11',-6.1],['2022-09-26',-6.8],['2022-10-08',-7.6],['2022-10-18',-8.1],['2022-10-26',-7.8],['2022-11-03',-6.8],['2022-11-14',-6.0],['2022-11-25',-5.7],['2022-12-14',-5.39],['2023-01-01',-5.31],['2023-01-13',-4.91],['2023-01-29',-4.83],['2023-02-08',-4.52],['2023-02-20',-4.99],['2023-03-01',-5.2],['2023-03-11',-4.76],['2023-03-24',-4.36],['2023-04-04',-4.12],['2023-04-20',-4.05],['2023-04-29',-3.89],['2023-05-13',-3.65],['2023-05-20',-3.57],['2023-05-28',-3.81],['2023-06-11',-3.6],['2023-06-25',-3.65],['2023-07-03',-3.81],['2023-07-12',-3.18],['2023-08-22',-3.1],['2023-09-20',-3.05],['2023-10-18',-3.02],['2023-11-02',-2.78],['2023-11-16',-2.23],['2023-11-30',-1.28],['2023-12-15',-0.57],['2023-12-26',-0.17],['2024-01-07',0.0],['2024-01-22',0.15],['2024-02-06',0.15],['2024-02-20',0.23],['2024-03-08',0.46],['2024-03-24',0.78],['2024-04-03',0.94],['2024-04-10',0.86],['2024-04-17',0.62]];

// Legend / series names (legend order, 3 columns)
const names = {
  loBaird:'LO Priviledge Baird - Short-term ...', gama:'GAMA Global Short-Dated Opportu...',
  goldman:'Goldman Sachs - US Dollar Short ...', blackrock:'BlackRock Global Funds - USD Sh...',
  vontobel:'Vontobel Fund-Twentyfour Sustai...', muzEY:'Muzinich Enhanced Yield (USD)',
  loFund:'LO Fund - Ultra Short Duration (U...', greenAsh:'Green Ash Short Duration Credit F...',
  jpm:'JPMorgan Funds - US Short Durati...', axa:'AXA WF US Credit Short Duration I...',
  saagsd:'.SAAGSD F Index (SAA GAMA SHOR...', muzSD:'Muzinich Short-duration Investme...',
  pictet:'Pictet - Short Mid-Term Bonds (U...', mirabaud:'Mirabaud - Global Short Duration ...',
  jss:'JSS Sustainable Bond - Global Sh...', ishares:'iShares USD Short Duration Corp ...'
};
const legendCols = [
  ['loBaird','gama','goldman','blackrock','vontobel'],
  ['muzEY','loFund','greenAsh','jpm','axa','saagsd'],
  ['muzSD','pictet','mirabaud','jss','ishares']
];
const startDate = '2020-09-21', axisEnd = '2024-05-14';
const yearLabels = ['2020','2021','2022','2023','2024'];

// ---------------- STYLES ----------------
const DATA = {gama,muzEY,muzSD,loFund,greenAsh,mirabaud,vontobel,axa,loBaird,saagsd,pictet,jpm,ishares,blackrock,goldman,jss};
const STY = {
  loBaird:{c:'#4b8b3b',t:'dotted'}, gama:{c:'#13294b',t:'solid'}, goldman:{c:'#f59a00',t:'dotted'},
  blackrock:{c:'#d9a3f5',t:'dotted'}, vontobel:{c:'#f26a00',t:'dashed'}, muzEY:{c:'#5f8dc9',t:'dashed'},
  loFund:{c:'#c2dfba',t:'dotted'}, greenAsh:{c:'#4a4a4a',t:'dotted'}, jpm:{c:'#6db3f7',t:'dashed'},
  axa:{c:'#ff8fa3',t:'dashed'}, saagsd:{c:'#1a2d4a',t:'dotted'}, muzSD:{c:'#6b6a92',t:'dashed'},
  pictet:{c:'#d3d3d3',t:'dashed'}, mirabaud:{c:'#1cc3f1',t:'dashed'}, jss:{c:'#9fd84d',t:'dotted'},
  ishares:{c:'#ff1a1a',t:'dotted'}
};
const TAG = {
  loFund:['#c8e2c2','#1b2742'], muzEY:['#5f8dc9','#1b2742'], muzSD:['#6b6a92','#ffffff'], gama:['#13294b','#ffffff'],
  greenAsh:['#484848','#ffffff'], mirabaud:['#1cc3f1','#1b2742'], axa:['#ff8fa3','#1b2742'],
  saagsd:['#1a2d4a','#ffffff'], loBaird:['#4b8b3b','#ffffff'], vontobel:['#f26a00','#1b2742'],
  ishares:['#ff1a1a','#1b2742'], pictet:['#d3d3d3','#1b2742'], jpm:['#6db3f7','#1b2742'],
  jss:['#9fd84d','#1b2742'], blackrock:['#d9a3f5','#1b2742'], goldman:['#f59a00','#1b2742']
};
const tagOrder = ['jss','jpm','vontobel','ishares','pictet','blackrock','goldman','axa','saagsd','loBaird','greenAsh','mirabaud','gama','muzSD','muzEY','loFund'];
const drawOrder = ['loFund','pictet','jss','goldman','blackrock','jpm','ishares','loBaird','axa','vontobel','mirabaud','saagsd','greenAsh','muzSD','muzEY','gama'];

const FONT = '"Liberation Sans", Arial, sans-serif';
const TXT = '#1b2742';
const LFS = 22.5;
const last = k => DATA[k][DATA[k].length-1][1];
const ts = (y,m,d) => new Date(y,m-1,d).getTime();
const pd = s => { const p = s.split('-').map(Number); return ts(p[0],p[1],p[2]); };

const monthTicks = [], quarterLines = [];
for (let y=2020; y<=2024; y++) for (let m=1; m<=12; m++) {
  const t = ts(y,m,1);
  if (t < pd(startDate) || t > pd(axisEnd)) continue;
  monthTicks.push(t);
  if ((m-1)%3===0) quarterLines.push({xAxis: t});
}
const yearStarts = [ts(2021,1,1),ts(2022,1,1),ts(2023,1,1),ts(2024,1,1)];
const yearMids = [ts(2020,11,10),ts(2021,7,2),ts(2022,7,2),ts(2023,7,2),ts(2024,3,8)];

function lineType(t){ return t==='dashed' ? [12,7] : t==='dotted' ? [3.5,3] : 'solid'; }
function lineWidth(k){ return k==='gama' ? 5.5 : (STY[k].t==='dashed' ? 4.3 : 3.8); }

const series = drawOrder.map(k => ({
  name: names[k], type:'line', data: DATA[k].map(p => [pd(p[0]), p[1]]), xAxisIndex:0, yAxisIndex:0,
  showSymbol:false, symbol:'none', animation:false, emphasis:{disabled:true}, z: 3,
  lineStyle:{color: STY[k].c, width: lineWidth(k), type: lineType(STY[k].t), cap:'butt', join:'round'},
  itemStyle:{color: STY[k].c}
}));
series.unshift({
  name:'grid', type:'line', data:[], xAxisIndex:0, yAxisIndex:0, z:2, animation:false, silent:true,
  markLine:{silent:true, symbol:'none', animation:false, label:{show:false},
    lineStyle:{color:'#000', type:[2,3], width:1}, emphasis:{disabled:true}, data: quarterLines}
});

const legends = legendCols.map((col, ci) => ({
  orient:'vertical', left:[23,529,1020][ci], top:[740,714,714][ci], padding:0, itemGap:0,
  itemWidth:17, itemHeight:13, selectedMode:false, z:5,
  data: col.map(k => ({name: names[k], icon:'rect',
    itemStyle: k==='gama' ? {color:'#13294b', borderWidth:0}
      : {color:'rgba(0,0,0,0)', borderColor: STY[k].c, borderWidth:1.5, borderType: STY[k].t==='dotted'?[2,2]:[6,3]}})),
  formatter: name => { const k = Object.keys(names).find(x=>names[x]===name); return '{n|'+name+'}{v|'+last(k).toFixed(2)+'}'; },
  textStyle:{color:TXT, fontFamily:FONT, fontSize:LFS, lineHeight:26,
    rich:{n:{width:[398,395,395][ci], fontFamily:FONT, fontSize:LFS, color:TXT, lineHeight:26},
          v:{width:50, align:'right', fontFamily:FONT, fontSize:LFS, color:TXT, lineHeight:26}}}
}));

const option = {
  backgroundColor:'#ffffff', animation:false,
  grid:{left:9, right:108, top:3.8, bottom:74.9, containLabel:false},
  xAxis:[
    {type:'value', min:pd(startDate), max:pd(axisEnd), position:'bottom', scale:true,
     axisLine:{show:true, onZero:false, lineStyle:{color:'#000', width:2}},
     axisTick:{show:true, customValues: monthTicks, length:6, lineStyle:{color:'#000', width:1.5}},
     axisLabel:{show:false}, splitLine:{show:false}},
    {type:'value', min:pd(startDate), max:pd(axisEnd), position:'bottom', offset:24, scale:true,
     axisLine:{show:false, onZero:false},
     axisTick:{show:true, customValues: yearStarts, length:27, lineStyle:{color:'#999', width:1.5}},
     axisLabel:{show:true, customValues: yearMids, margin:3, fontSize:23, fontFamily:FONT, color:TXT,
       showMinLabel:true, showMaxLabel:true,
       formatter: v => { const i = yearMids.indexOf(v); return i >= 0 ? yearLabels[i] : ''; }},
     splitLine:{show:false}}
  ],
  yAxis:{type:'value', position:'right', min:-10, max:10.9, interval:5,
    axisLine:{show:true, lineStyle:{color:'#000', width:2}},
    axisTick:{show:false},
    minorTick:{show:true, splitNumber:2, length:6, lineStyle:{color:'#000', width:1}},
    splitLine:{show:true, lineStyle:{color:'#000', type:[2,3], width:1}},
    axisLabel:{margin:1, showMaxLabel:false,
      formatter: v => (v <= -10 || v > 10.01) ? '' : '{a|▶}{b|'+v.toFixed(2)+'}',
      rich:{a:{fontFamily:'DejaVu Sans', fontSize:11, color:'#000', width:14},
            b:{fontFamily:FONT, fontSize:23, color:TXT}}}
  },
  legend: legends,
  series: series
};

const chart = echarts.init(document.getElementById('c'), null, {renderer:'canvas'});
chart.setOption(option);

// --------- annotations: legend panel, header, footers, value tags ---------
const axisX = chart.convertToPixel({xAxisIndex:0}, pd(axisEnd));
const yBottom = chart.convertToPixel({yAxisIndex:0}, -10);
const g = [];
g.push({type:'rect', z:-1, silent:true, shape:{x:11, y:699, width: chart.convertToPixel({xAxisIndex:0}, ts(2024,1,1)) - 11, height: yBottom - 699},
  style:{fill:'#f0f0f0'}});
g.push({type:'text', z:6, x:264, y:726, style:{text:'Normalized As Of 09/21/2020', font:LFS+'px '+FONT, fill:TXT, align:'center', verticalAlign:'middle'}});
g.push({type:'text', z:6, x:12, y:948, style:{text:'MUZESTU ID Equity (Muzinich Funds - EnhancedYield Short-Term Fund) Peers Short-Dated Fund  Daily 21SEP2020-17APR2024', font:'15.8px "DejaVu Sans"', fill:TXT, verticalAlign:'middle'}});
g.push({type:'text', z:6, x:1128, y:948, style:{text:'Copyright\u00A9 2024 Bloomberg Finance L.P.', font:'15.6px "DejaVu Sans"', fill:TXT, verticalAlign:'middle'}});
g.push({type:'text', z:6, x:1762, y:948, style:{text:'17-Apr-2024 11:22:037', font:'15.6px "DejaVu Sans"', fill:TXT, align:'right', verticalAlign:'middle'}});
tagOrder.forEach((k,i) => {
  const v = last(k), y = chart.convertToPixel({yAxisIndex:0}, v);
  g.push({type:'polygon', z:10, z2:2*i, silent:true, shape:{points:[[axisX+2,y],[axisX+14,y-14],[1773,y-14],[1773,y+14],[axisX+14,y+14]]},
    style:{fill:TAG[k][0], stroke:'#333', lineWidth:1}});
  g.push({type:'text', z:10, z2:2*i+1, silent:true, x:axisX+12, y:y+1, style:{text:v.toFixed(2), font:'23px '+FONT, fill:TAG[k][1], verticalAlign:'middle'}});
});
chart.setOption({graphic: g});
</script></body></html>
